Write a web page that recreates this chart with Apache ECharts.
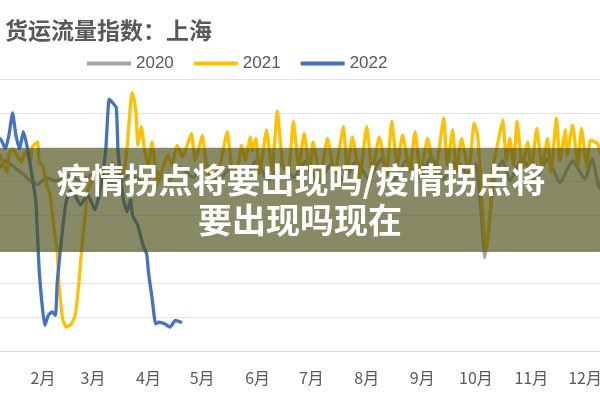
<!DOCTYPE html>
<html>
<head>
<meta charset="utf-8">
<script src="https://cdn.jsdelivr.net/npm/echarts@6/dist/echarts.min.js"></script>
<style>html,body{margin:0;padding:0;background:#fff}#c{width:600px;height:400px}</style>
</head>
<body>
<div id="c"></div>
<script>
const titleText = '货运流量指数：上海';
const seriesNames = ['2020', '2021', '2022'];
const monthStarts = [0, 31, 59, 90, 120, 151, 181, 212, 243, 273, 304, 334];
const monthLabels = ['1月','2月','3月','4月','5月','6月','7月','8月','9月','10月','11月','12月'];
const bannerLine1 = '疫情拐点将要出现吗/疫情拐点将';
const bannerLine2 = '要出现吗现在';

const days2020 = [0,5,10,15,20,24,28,33,38,45,52,59,66,73,80,87,94,101,108,115,122,129,136,143,150,157,164,171,178,185,192,199,206,213,220,227,234,241,248,255,262,269,273,276,278,280,283,288,292,299,306,313,320,327,334,338,342,346,350,355,362,365];
const vals2020 = [110,106,112,108,104,100,98,102,100,103,100,104,100,98,104,99,106,100,108,102,110,100,108,101,112,100,110,102,112,99,110,100,112,101,113,100,112,102,114,101,112,103,110,80,55,70,100,112,100,114,100,113,99,112,101,113,96,112,96,110,104,108];

const days2021 = [0,3,7,9,11,12,14,17,19,21,24,25,28,29,31,33,35,37,39,40,42,44,47,49,51,53,55,56,59,62,65,67,70,73,76,78,80,81,83,84,86,88,90,92,94,95,98,101,103,106,109,111,114,116,118,120,123,126,130,134,137,140,142,144,147,148,150,152,156,159,162,165,168,171,174,177,180,182,186,190,194,199,201,204,208,212,215,219,223,226,229,232,236,239,242,246,250,255,257,260,262,265,269,272,274,277,279,281,282,285,288,290,292,294,296,299,302,304,307,310,313,315,318,320,323,324,327,330,332,335,337,341,344,348,352,356,360,365];
const vals2021 = [112,118,115,109,105,116,119,114,111,117,112,120,123,111,109,98,92,74,58,39,19,14,16,21,39,64,84,94,102,108,98,105,111,104,105,119,146,152,141,121,132,117,109,123,105,98,108,115,109,121,114,119,128,112,118,127,105,102,109,129,106,109,121,112,126,118,125,104,130,106,141,109,104,135,108,128,106,123,101,125,104,132,106,126,102,132,105,126,104,135,109,127,106,129,104,125,102,137,109,130,106,125,105,134,127,78,59,83,105,121,136,112,125,109,135,108,123,105,131,108,125,105,137,112,130,115,133,109,131,108,124,122,112,126,108,120,110,115];

const days2022 = [0,4,7,10,12,14,16,18,20,22,24,27,29,32,34,36,38,39,42,44,47,52,56,60,63,66,68,70,72,73,76,78,80,81,84,87,89,90,92,94,96,99,102,105,108];
const vals2022 = [118,124,125,119,127,140,126,119,129,121,109,88,46,15,21,23,21,41,72,88,95,86,92,83,95,117,148,146,143,117,89,82,89,80,74,62,57,46,31,16,17,16,14,18,17];

const colors = ['#a5a5a5', '#ffc000', '#4472c4'];
const allDays = [days2020, days2021, days2022];
const allVals = [vals2020, vals2021, vals2022];

const chart = echarts.init(document.getElementById('c'), null, {renderer: 'canvas'});
const series = seriesNames.map((name, k) => ({
  name: name,
  type: 'line',
  data: allDays[k].map((d, i) => [d, allVals[k][i]]),
  showSymbol: false,
  symbol: 'none',
  smooth: 0.15,
  lineStyle: {color: colors[k], width: 3.3, join: 'round', cap: 'round'},
  itemStyle: {color: colors[k]},
  z: 2 + k
}));

chart.setOption({
  animation: false,
  backgroundColor: '#ffffff',
  title: {
    text: titleText,
    left: 0,
    top: 14,
    textStyle: {fontSize: 23, fontWeight: 'bold', color: '#595959', fontFamily: 'Noto Sans CJK SC'}
  },
  legend: {
    data: seriesNames,
    left: 82,
    top: 50,
    icon: 'rect',
    itemWidth: 44,
    itemHeight: 4,
    itemGap: 20,
    textStyle: {fontSize: 17, color: '#595959', fontFamily: 'Liberation Sans'}
  },
  grid: {left: -12.5, right: -40.5, top: 79, bottom: 49, containLabel: false, outerBoundsMode: 'none'},
  xAxis: {
    type: 'value',
    min: 0,
    max: 365,
    axisLine: {show: true, lineStyle: {color: '#d9d9d9', width: 1}},
    axisTick: {show: false},
    splitLine: {show: false},
    axisLabel: {
      customValues: monthStarts,
      formatter: v => monthLabels[monthStarts.indexOf(v)] || '',
      fontSize: 16,
      color: '#595959',
      margin: 19,
      fontFamily: 'Noto Sans CJK SC'
    }
  },
  yAxis: {
    type: 'value',
    min: 0,
    max: 160,
    interval: 20,
    axisLabel: {show: false},
    axisLine: {show: false},
    axisTick: {show: false},
    splitLine: {lineStyle: {color: '#e3e3e3', width: 1}}
  },
  series: series,
  graphic: [
    {
      type: 'rect',
      z: 100,
      shape: {x: 0, y: 148, width: 600, height: 104},
      style: {fill: 'rgba(80,82,30,0.68)'}
    },
    {
      type: 'text',
      z: 101,
      x: 301,
      y: 180,
      style: {
        text: bannerLine1,
        fill: '#ffffff',
        font: 'bold 34px "Noto Sans CJK SC"',
        align: 'center',
        verticalAlign: 'middle'
      }
    },
    {
      type: 'text',
      z: 101,
      x: 300,
      y: 220,
      style: {
        text: bannerLine2,
        fill: '#ffffff',
        font: 'bold 34px "Noto Sans CJK SC"',
        align: 'center',
        verticalAlign: 'middle'
      }
    }
  ]
});
</script>
</body>
</html>
